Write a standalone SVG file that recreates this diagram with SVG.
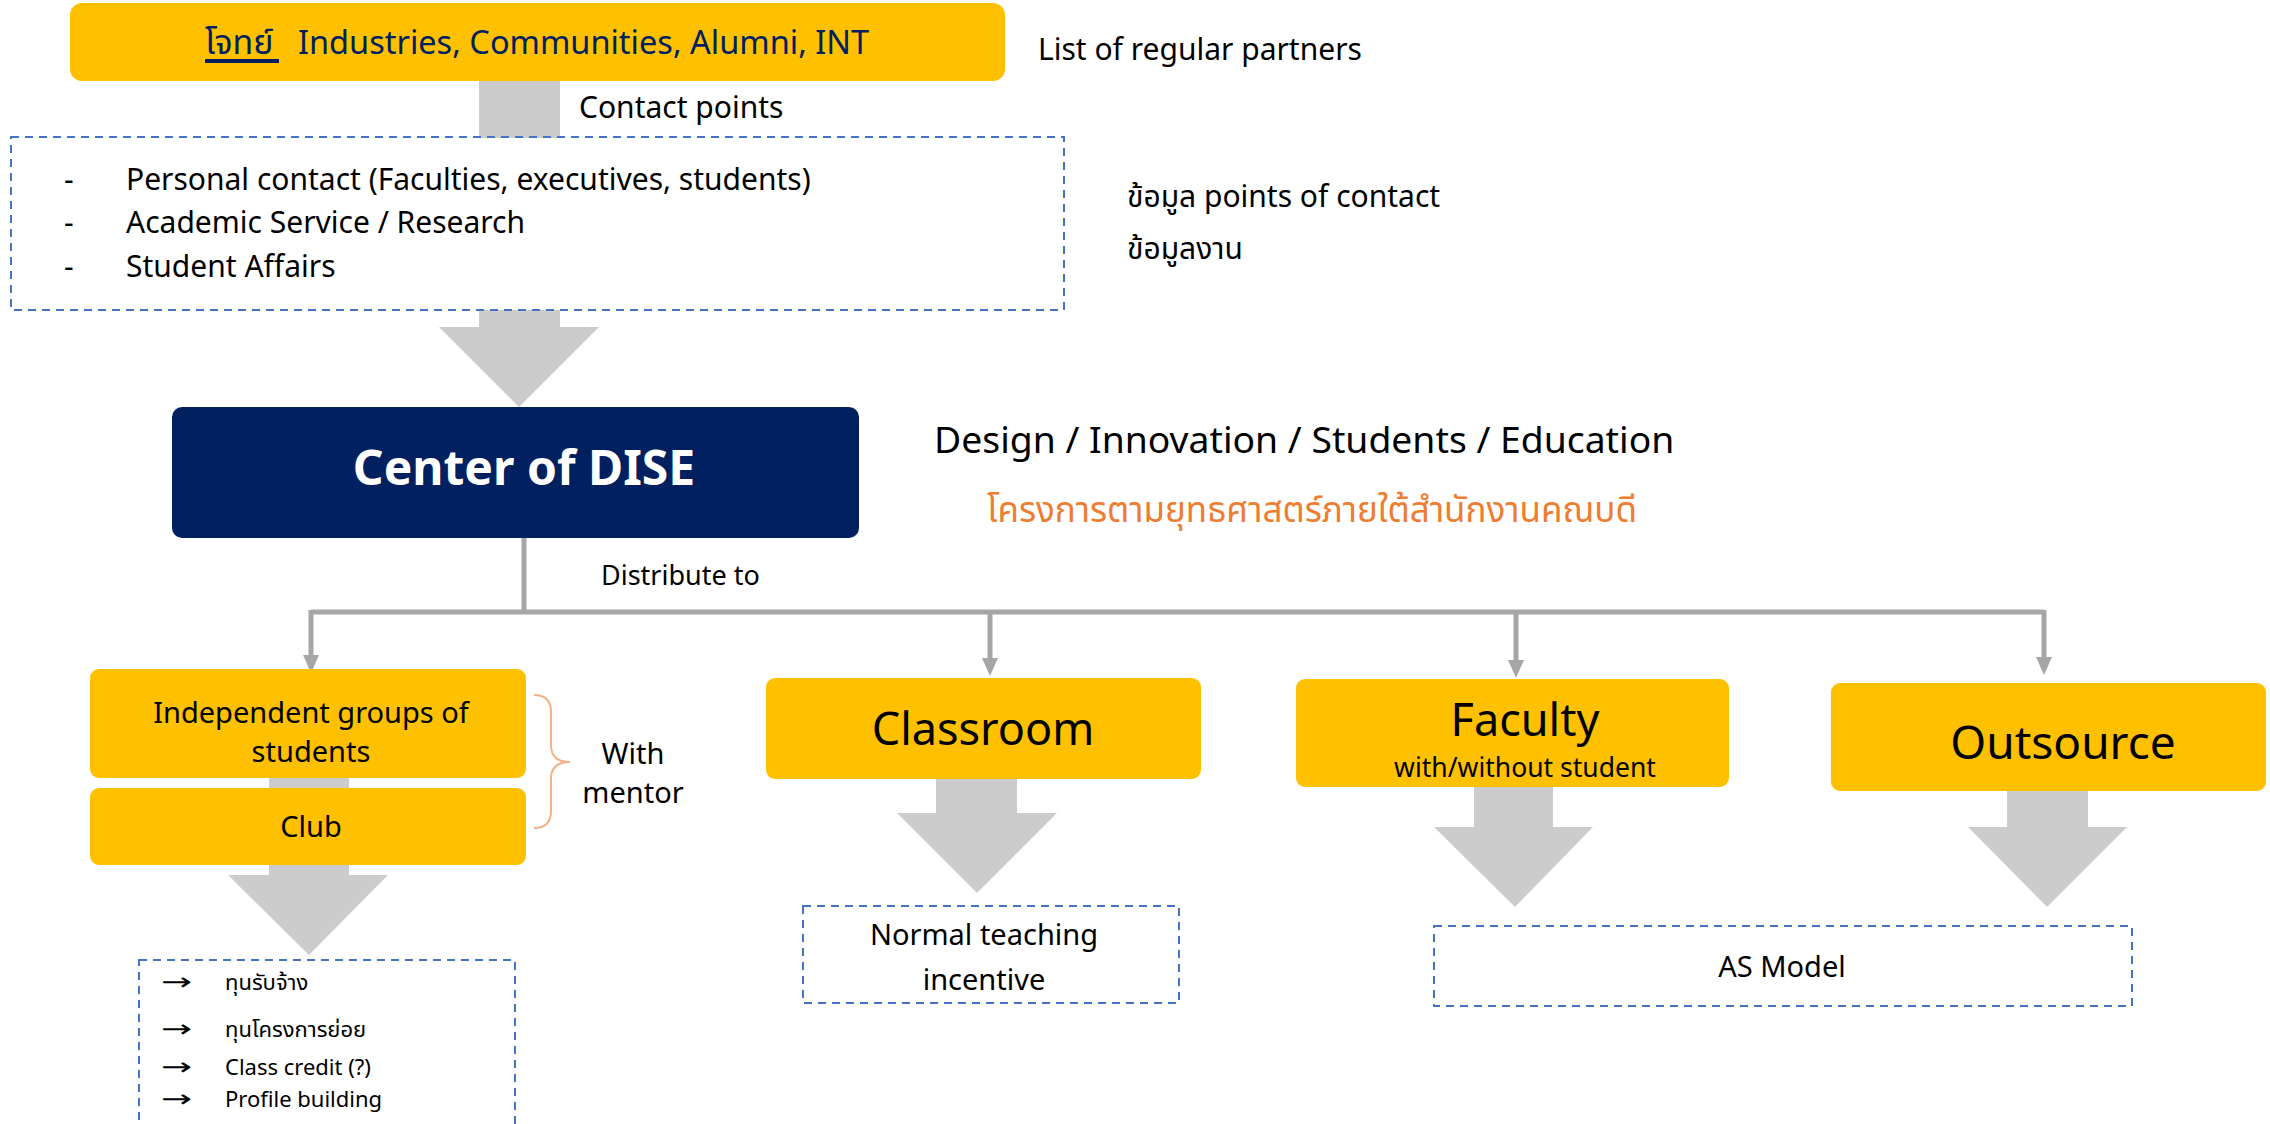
<svg xmlns="http://www.w3.org/2000/svg" width="2270" height="1124" viewBox="0 0 2270 1124">
<style>
  text { font-family: "Noto Sans", "Noto Sans Thai", "Open Sans", sans-serif; fill: #000; }
  .yel { fill: #FFC000; }
  .dash { fill: none; stroke: #4472C4; stroke-width: 2; stroke-dasharray: 8 6; }
  .big { fill: #CCCCCC; }
  .line { fill: none; stroke: #A6A6A6; stroke-width: 5; }
  .mid { text-anchor: middle; }
  .arr { font-family: "DejaVu Sans", sans-serif; }
</style>
<rect width="2270" height="1124" fill="#fff"/>

<g id="connectors">
  <rect class="big" x="479" y="81" width="81" height="57"/>
  <path class="big" d="M479,310 L560,310 L560,327 L599,327 L519,407 L439,327 L479,327 Z"/>
  <path class="line" d="M524,535 L524,612"/>
  <path class="line" d="M311,612 L2044,612"/>
  <path class="line" d="M311,610 L311,656"/>
  <path class="line" d="M990,610 L990,658"/>
  <path class="line" d="M1516,610 L1516,660"/>
  <path class="line" d="M2044,610 L2044,658"/>
  <path d="M303,655 L319,655 L311,673 Z" fill="#A6A6A6"/>
  <path d="M982,658 L998,658 L990,676 Z" fill="#A6A6A6"/>
  <path d="M1508,660 L1524,660 L1516,678 Z" fill="#A6A6A6"/>
  <path d="M2036,657 L2052,657 L2044,675 Z" fill="#A6A6A6"/>
  <rect class="big" x="269" y="776" width="80" height="14"/>
  <path class="big" d="M269,863 L349,863 L349,875 L388,875 L309,955 L228,875 L269,875 Z"/>
  <path class="big" d="M936,778 L1017,778 L1017,813 L1057,813 L977,893 L897,813 L936,813 Z"/>
  <path class="big" d="M1474,786 L1553,786 L1553,827 L1593,827 L1515,907 L1434,827 L1474,827 Z"/>
  <path class="big" d="M2007,790 L2088,790 L2088,827 L2127,827 L2047,907 L1968,827 L2007,827 Z"/>
</g>

<g id="partners">
  <rect class="yel" x="70" y="3" width="935" height="78" rx="12"/>
  <text x="205" y="54" font-size="34" style="fill:#002060">โจทย์</text>
  <rect x="205" y="59" width="74" height="4" fill="#002060"/>
  <text x="298" y="54" font-size="32.5" style="fill:#002060">Industries, Communities, Alumni, INT</text>
</g>
<text x="1038" y="60" font-size="30">List of regular partners</text>
<text x="579" y="118" font-size="30">Contact points</text>

<g id="contacts">
  <rect class="dash" x="11" y="137" width="1053" height="173"/>
  <text x="64" y="190" font-size="30">-</text>
  <text x="126" y="190" font-size="30">Personal contact (Faculties, executives, students)</text>
  <text x="64" y="233" font-size="30">-</text>
  <text x="126" y="233" font-size="30">Academic Service / Research</text>
  <text x="64" y="277" font-size="30">-</text>
  <text x="126" y="277" font-size="30">Student Affairs</text>
</g>
<text x="1127" y="207" font-size="30">ข้อมูล points of contact</text>
<text x="1127" y="259" font-size="30">ข้อมูลงาน</text>

<g id="dise">
  <rect x="172" y="407" width="687" height="131" rx="10" fill="#002060"/>
  <text class="mid" x="524" y="485" font-size="48" font-weight="bold" style="fill:#fff">Center of DISE</text>
</g>
<text x="934" y="453" font-size="37.3">Design / Innovation / Students / Education</text>
<text x="987" y="522" font-size="35" style="fill:#ED7D31">โครงการตามยุทธศาสตร์ภายใต้สำนักงานคณบดี</text>
<text x="601" y="585" font-size="27">Distribute to</text>

<g id="independent">
  <rect class="yel" x="90" y="669" width="436" height="109" rx="9"/>
  <text class="mid" x="311" y="723" font-size="29">Independent groups of</text>
  <text class="mid" x="311" y="762" font-size="29">students</text>
</g>
<g id="club">
  <rect class="yel" x="90" y="788" width="436" height="77" rx="9"/>
  <text class="mid" x="311" y="837" font-size="29">Club</text>
</g>
<g id="mentor">
  <path d="M534,695 Q551,695 551,712 L551,745 Q551,762 570,762 Q551,762 551,779 L551,811 Q551,828 534,828" fill="none" stroke="#F4B183" stroke-width="2"/>
  <text class="mid" x="633" y="764" font-size="29">With</text>
  <text class="mid" x="633" y="803" font-size="29">mentor</text>
</g>
<g id="student-outcomes">
  <rect class="dash" x="139" y="960" width="376" height="180"/>
  <text class="arr" x="161" y="990" font-size="24" textLength="31" lengthAdjust="spacingAndGlyphs">→</text>
  <text x="225" y="990" font-size="22">ทุนรับจ้าง</text>
  <text class="arr" x="161" y="1037" font-size="24" textLength="31" lengthAdjust="spacingAndGlyphs">→</text>
  <text x="225" y="1037" font-size="22">ทุนโครงการย่อย</text>
  <text class="arr" x="161" y="1075" font-size="24" textLength="31" lengthAdjust="spacingAndGlyphs">→</text>
  <text x="225" y="1075" font-size="22">Class credit (?)</text>
  <text class="arr" x="161" y="1107" font-size="24" textLength="31" lengthAdjust="spacingAndGlyphs">→</text>
  <text x="225" y="1107" font-size="22">Profile building</text>
</g>

<g id="classroom">
  <rect class="yel" x="766" y="678" width="435" height="101" rx="9"/>
  <text class="mid" x="983" y="745" font-size="45">Classroom</text>
</g>
<g id="normal-teaching">
  <rect class="dash" x="803" y="906" width="376" height="97"/>
  <text class="mid" x="984" y="945" font-size="29">Normal teaching</text>
  <text class="mid" x="984" y="990" font-size="29">incentive</text>
</g>

<g id="faculty">
  <rect class="yel" x="1296" y="679" width="433" height="108" rx="9"/>
  <text class="mid" x="1525" y="736" font-size="45">Faculty</text>
  <text class="mid" x="1525" y="777" font-size="26.5">with/without student</text>
</g>
<g id="outsource">
  <rect class="yel" x="1831" y="683" width="435" height="108" rx="9"/>
  <text class="mid" x="2063" y="759" font-size="46">Outsource</text>
</g>
<g id="as-model">
  <rect class="dash" x="1434" y="926" width="698" height="80"/>
  <text class="mid" x="1782" y="977" font-size="29">AS Model</text>
</g>
</svg>
